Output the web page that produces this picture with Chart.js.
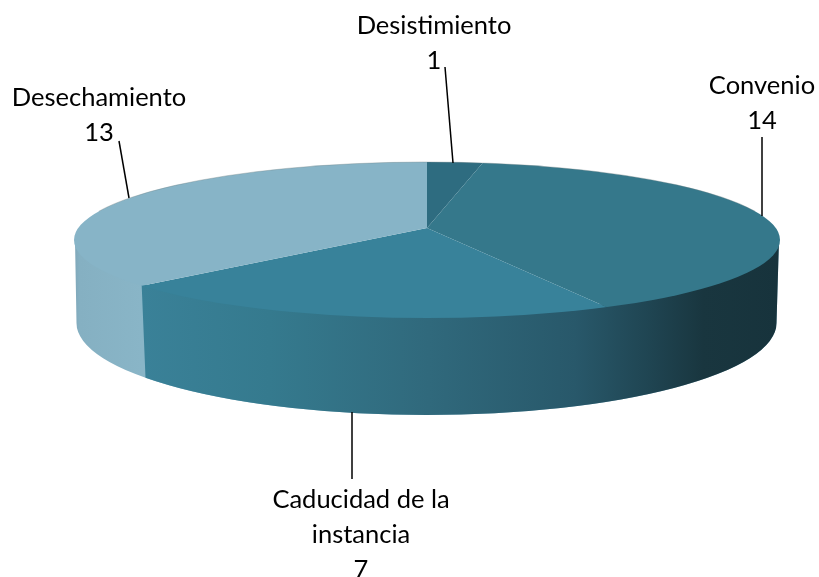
<!DOCTYPE html>
<html>
<head>
<meta charset="utf-8">
<style>
  html, body { margin: 0; padding: 0; background: #fff; }
  canvas { display: block; }
</style>
<script src="https://cdn.jsdelivr.net/npm/chart.js@4"></script>
</head>
<body>
<canvas id="pie" width="819" height="577"></canvas>
<script>
const categories = ["Desistimiento", "Convenio", "Caducidad de la instancia", "Desechamiento"];
const values = [1, 14, 7, 13];
const sliceColors = ["#2e6c80", "#35788b", "#38829a", "#87b4c7"];

// wrapped text for the labels, same order as categories
const labelNames = [["Desistimiento"], ["Convenio"], ["Caducidad de la", "instancia"], ["Desechamiento"]];
const labelX = [434, 762, 361, 99];
const labelTop = [34, 94, 508, 106];
const lineGap = 35;
const leaders = [[445, 67, 453, 163], [762, 137, 762, 216], [352, 412, 352, 479], [119, 141, 129, 198]];

// tilted disc: top ellipse, bottom ellipse and the off centre apex of the perspective
const top3d = { x: 427, y: 240, rx: 353, ry: 78 };
const bottom3d = { x: 426.5, y: 323, rx: 350, ry: 92 };
const apex = { x: 427, y: 228 };
const pieRadius = 432;
const squash = 0.212;

function edgePoint(angle) {
  // where the slice border leaves the top ellipse
  const dx = Math.cos(angle) * pieRadius;
  const dy = Math.sin(angle) * pieRadius * squash;
  const ox = apex.x - top3d.x, oy = apex.y - top3d.y;
  const a = (dx * dx) / (top3d.rx * top3d.rx) + (dy * dy) / (top3d.ry * top3d.ry);
  const b = 2 * ((ox * dx) / (top3d.rx * top3d.rx) + (oy * dy) / (top3d.ry * top3d.ry));
  const c = (ox * ox) / (top3d.rx * top3d.rx) + (oy * oy) / (top3d.ry * top3d.ry) - 1;
  const t = (-b + Math.sqrt(b * b - 4 * a * c)) / (2 * a);
  return { x: apex.x + t * dx, y: apex.y + t * dy };
}

function wallPath(ctx) {
  // upper bound runs a bit under the top face so no white seam shows
  ctx.beginPath();
  ctx.ellipse(top3d.x, top3d.y, top3d.rx - 1, top3d.ry - 4, 0, Math.PI, 0, true);
  ctx.ellipse(bottom3d.x, bottom3d.y, bottom3d.rx, bottom3d.ry, 0, 0, Math.PI, false);
  ctx.closePath();
}

const disc3d = {
  id: "disc3d",
  beforeDatasetsDraw(chart) {
    const ctx = chart.ctx;
    const arc = chart.getDatasetMeta(0).data[2];
    const edge = edgePoint(arc.endAngle);

    // side wall, light part first
    ctx.save();
    wallPath(ctx);
    const light = ctx.createLinearGradient(top3d.x - top3d.rx, 0, edge.x, 0);
    light.addColorStop(0, "#7fa6b8");
    light.addColorStop(0.08, "#85b0c2");
    light.addColorStop(1, "#89b5c7");
    ctx.fillStyle = light;
    ctx.fill();
    ctx.clip();

    // the rest of the wall belongs to the Caducidad slice
    ctx.beginPath();
    ctx.moveTo(edge.x, edge.y - 5);
    ctx.lineTo(edge.x + 4, edge.y + 92);
    ctx.lineTo(edge.x + 8, edge.y + 200);
    ctx.lineTo(820, edge.y + 200);
    ctx.lineTo(820, edge.y - 80);
    ctx.lineTo(edge.x, edge.y - 80);
    ctx.closePath();
    const dark = ctx.createLinearGradient(edge.x, 0, top3d.x + top3d.rx, 0);
    dark.addColorStop(0, "#3a8198");
    dark.addColorStop(0.2, "#357a8e");
    dark.addColorStop(0.45, "#30697c");
    dark.addColorStop(0.68, "#28586a");
    dark.addColorStop(0.8, "#1f4451");
    dark.addColorStop(0.88, "#19363f");
    dark.addColorStop(1, "#17333c");
    ctx.fillStyle = dark;
    ctx.fill();
    ctx.restore();

    // pie goes on the top face only
    const first = chart.getDatasetMeta(0).data[0];
    const scale = pieRadius / first.outerRadius;
    ctx.save();
    ctx.beginPath();
    ctx.ellipse(top3d.x, top3d.y, top3d.rx, top3d.ry, 0, 0, Math.PI * 2);
    ctx.clip();
    ctx.translate(apex.x, apex.y);
    ctx.scale(scale, scale * squash);
    ctx.translate(-first.x, -first.y);
  },
  afterDatasetsDraw(chart) {
    const ctx = chart.ctx;
    ctx.restore();

    // faint rim on the far edge
    ctx.save();
    ctx.strokeStyle = "rgba(110,125,130,0.35)";
    ctx.lineWidth = 1;
    ctx.beginPath();
    ctx.ellipse(top3d.x, top3d.y, top3d.rx, top3d.ry, 0, Math.PI * 1.12, Math.PI * 1.88);
    ctx.stroke();

    ctx.strokeStyle = "#000";
    ctx.lineWidth = 1.5;
    leaders.forEach(function (l) {
      ctx.beginPath();
      ctx.moveTo(l[0], l[1]);
      ctx.lineTo(l[2], l[3]);
      ctx.stroke();
    });

    ctx.fillStyle = "#000";
    ctx.font = '25.5px Lato, "Noto Sans", sans-serif';
    ctx.textAlign = "center";
    ctx.textBaseline = "alphabetic";
    labelNames.forEach(function (lines, i) {
      const rows = lines.concat(String(values[i]));
      rows.forEach(function (row, r) {
        ctx.fillText(row, labelX[i], labelTop[i] + r * lineGap);
      });
    });
    ctx.restore();
  }
};

new Chart(document.getElementById("pie"), {
  type: "pie",
  data: {
    labels: categories,
    datasets: [{
      data: values,
      backgroundColor: sliceColors,
      borderWidth: 0,
      clip: false
    }]
  },
  options: {
    responsive: false,
    animation: false,
    events: [],
    plugins: {
      legend: { display: false },
      title: { display: false },
      tooltip: { enabled: false }
    }
  },
  plugins: [disc3d]
});
</script>
</body>
</html>
